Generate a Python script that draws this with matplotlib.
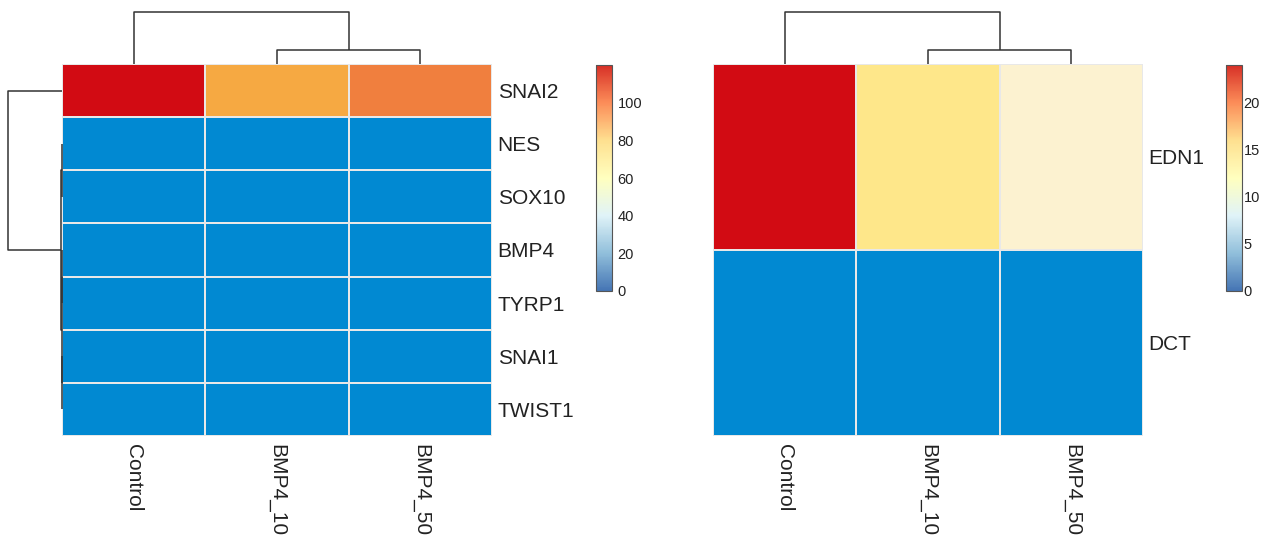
import numpy as np
import matplotlib
matplotlib.use('Agg')
import matplotlib.pyplot as plt
from matplotlib.colors import LinearSegmentedColormap, Normalize

plt.rcParams['font.family'] = ['Liberation Sans', 'DejaVu Sans']

### data (rows in display order)
samples = ['Control', 'BMP4_10', 'BMP4_50']

genes_left = ['SNAI2', 'NES', 'SOX10', 'BMP4', 'TYRP1', 'SNAI1', 'TWIST1']
snai2 = [120.0, 78.0, 89.0]
nes = [1.6, 1.6, 1.5]
sox10 = [1.2, 1.2, 1.1]
bmp4 = [0.9, 0.9, 0.9]
tyrp1 = [0.7, 0.6, 0.7]
snai1 = [0.4, 0.4, 0.3]
twist1 = [0.1, 0.1, 0.1]

genes_right = ['EDN1', 'DCT']
edn1 = [24.0, 14.4, 10.8]
dct = [0.2, 0.1, 0.1]

left_ticks = [0, 20, 40, 60, 80, 100]
right_ticks = [0, 5, 10, 15, 20]

### colours
cell_cmap = LinearSegmentedColormap.from_list('cells', [
    (0.0, '#0189D2'), (0.1, '#0189D2'), (0.45, '#FCF2D0'), (0.6, '#FEE78A'),
    (0.65, '#F6A942'), (0.742, '#F07F3E'), (1.0, '#D20B13')])
legend_cmap = LinearSegmentedColormap.from_list('legend', [
    '#4575B4', '#91BFDB', '#E0F3F8', '#FFFFBF', '#FEE090', '#FC8D59', '#D73027'])


def complete_linkage(X):
    X = np.asarray(X, dtype=float)
    n = len(X)
    D = np.sqrt(((X[:, None, :] - X[None, :, :]) ** 2).sum(-1))
    clusters = {i: [i] for i in range(n)}
    merges = []
    nxt = n
    while len(clusters) > 1:
        keys = list(clusters)
        best = None
        for i in range(len(keys)):
            for j in range(i + 1, len(keys)):
                a, b = keys[i], keys[j]
                d = D[np.ix_(clusters[a], clusters[b])].max()
                if best is None or d < best[2]:
                    best = (a, b, d)
        a, b, d = best
        merges.append((a, b, d))
        clusters[nxt] = clusters.pop(a) + clusters.pop(b)
        nxt += 1
    return merges


def draw_dendro(ax, X, orient='top', lw=1.1, color='#333333'):
    merges = complete_linkage(X)
    n = len(X)
    pos = {i: i + 0.5 for i in range(n)}
    hgt = {i: 0.0 for i in range(n)}
    for k, (a, b, h) in enumerate(merges):
        pa, pb = pos[a], pos[b]
        xs = [pa, pa, pb, pb]
        ys = [hgt[a], h, h, hgt[b]]
        if orient == 'top':
            ax.plot(xs, ys, color=color, lw=lw, clip_on=False, solid_capstyle='butt')
        else:
            ax.plot(ys, xs, color=color, lw=lw, clip_on=False, solid_capstyle='butt')
        pos[n + k] = (pa + pb) / 2
        hgt[n + k] = h
    root = merges[-1][2]
    if orient == 'top':
        ax.set_xlim(0, n)
        ax.set_ylim(0, root)
    else:
        ax.set_ylim(n, 0)
        ax.set_xlim(root, 0)
    ax.axis('off')


def heat(fig, x0, cb_x, cb_pad, genes, mat, ticks, row_dendro):
    W, H = 1263, 538
    mat = np.asarray(mat)
    vmax = mat.max()
    ax = fig.add_axes([x0 / W, (H - 436) / H, 430 / W, 372 / H])
    ax.pcolormesh(mat, cmap=cell_cmap, norm=Normalize(0, vmax),
                  edgecolors='#E8E8E8', linewidth=1.1)
    ax.set_xlim(0, mat.shape[1])
    ax.set_ylim(mat.shape[0], 0)
    ax.set_xticks(np.arange(mat.shape[1]) + 0.5)
    ax.set_xticklabels(samples, rotation=270, fontsize=15, color='#222222')
    ax.set_yticks(np.arange(mat.shape[0]) + 0.5)
    ax.set_yticklabels(genes, fontsize=15, color='#222222')
    ax.yaxis.tick_right()
    ax.tick_params(length=0, pad=4)
    ax.tick_params(axis='x', pad=6)
    for s in ax.spines.values():
        s.set_visible(False)

    axc = fig.add_axes([x0 / W, (H - 64) / H, 430 / W, 52 / H])
    draw_dendro(axc, mat.T, 'top')
    if row_dendro:
        axr = fig.add_axes([8 / W, (H - 436) / H, 54 / W, 372 / H])
        draw_dendro(axr, mat, 'left')

    axb = fig.add_axes([cb_x / W, (H - 291) / H, 16 / W, 226 / H])
    cb = matplotlib.colorbar.ColorbarBase(axb, cmap=legend_cmap, norm=Normalize(0, vmax))
    cb.set_ticks(ticks)
    cb.ax.tick_params(length=0, labelsize=10.5, labelcolor='#222222', pad=cb_pad)
    cb.outline.set_edgecolor('#555555')
    cb.outline.set_linewidth(0.8)


fig = plt.figure(figsize=(12.63, 5.38), dpi=100)
heat(fig, 62, 596, 4, genes_left, [snai2, nes, sox10, bmp4, tyrp1, snai1, twist1], left_ticks, True)
heat(fig, 713, 1226, 1, genes_right, [edn1, dct], right_ticks, False)
fig.savefig('out.png', dpi=100)
